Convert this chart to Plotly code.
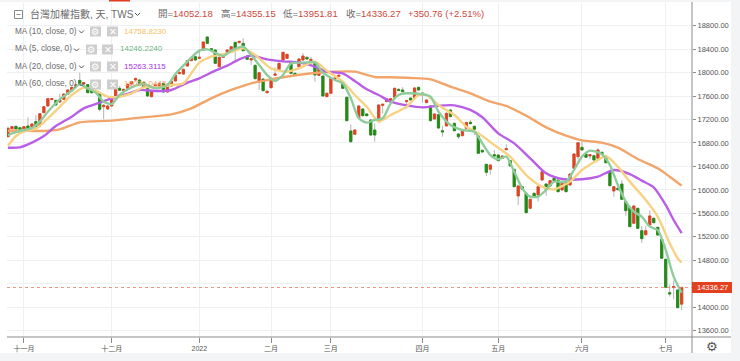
import plotly.graph_objects as go

opens = [16908,17044,17084,17061,17022,17090,17079,17164,17090,17317,
17431,17539,17527,17499,17544,17630,17692,17772,17868,17806,
17795,17692,17692,17647,17419,17380,17431,17579,17732,17692,
17732,17806,17874,17874,17829,17749,17590,17732,17749,17817,
17669,17772,17857,17982,17976,18113,18204,18272,18243,18386,
18607,18408,18386,18101,18261,18346,18346,18516,18511,18499,
18283,18215,18124,17840,17891,17658,17743,17954,18056,18215,
18243,18181,17988,18101,18215,18261,18204,18158,17954,17942,
17590,17647,17885,17937,17846,17579,17005,16948,17232,17380,
17295,17192,17022,17164,17442,17505,17505,17579,17715,17704,
17505,17567,17573,17749,17652,17488,17431,17209,17283,17010,
17090,17363,17135,16953,16925,17050,17153,17084,16919,16675,
16436,16351,16601,16595,16539,16686,16499,16351,15896,16055,
15942,15686,15942,15913,16169,16101,16067,16198,16169,15999,
16141,16084,16368,16567,16726,16612,16578,16584,16539,16641,
16578,16311,15982,16027,16101,15800,15703,15431,15686,15305,
15237,15402,15516,15362,15158,14817,14248,14334,14294,14052.18]

closes = [17050,17079,17039,16982,17079,17010,17124,17079,17300,17419,
17556,17556,17448,17533,17635,17704,17749,17789,17800,17829,
17658,17658,17664,17374,17442,17431,17579,17715,17698,17715,
17800,17846,17897,17789,17760,17601,17675,17800,17817,17669,
17800,17851,17954,18000,18056,18204,18243,18215,18261,18522,
18499,18374,18158,18261,18283,18386,18442,18397,18533,18374,
18226,18238,17897,17999,17692,17681,17902,17976,18158,18346,
18312,17988,17959,18232,18283,18232,18226,17959,18056,17601,
17647,17902,17908,17954,17732,17181,16823,17022,17431,17266,
17266,16936,16936,17448,17459,17556,17556,17732,17698,17675,
17522,17533,17738,17704,17624,17533,17181,17295,17056,16988,
17306,17249,17010,16908,16999,17147,17130,17033,16624,16647,
16300,16425,16578,16499,16578,16703,16408,16055,16067,16010,
15612,15840,15896,16055,16311,16010,16158,16158,15970,16112,
15970,16271,16612,16806,16681,16556,16601,16510,16681,16612,
16465,16073,16055,16004,15840,15646,15374,15726,15345,15169,
15305,15556,15442,15231,14834,14339,14226,14351,13992,14336.27]

highs = [17079,17090,17095,17070,17085,17238,17140,17275,17310,17430,
17570,17570,17535,17640,17645,17715,17760,17800,17999,17840,
17805,17700,17700,17660,17465,17440,17590,17725,17772,17725,
17815,17860,17920,17885,17840,17760,17685,17810,17825,17830,
17810,17860,17965,18030,18070,18215,18255,18285,18390,18535,
18620,18420,18400,18275,18295,18400,18455,18525,18545,18585,
18295,18250,18135,18010,17900,17695,17915,18090,18170,18355,
18320,18190,18000,18245,18330,18270,18265,18170,18065,17950,
17660,17915,17920,17965,17860,17590,17120,17035,17445,17390,
17305,17205,17135,17460,17470,17570,17570,17745,17730,17750,
17535,17575,17750,17760,17660,17545,17440,17305,17295,17090,
17320,17375,17145,16965,17010,17160,17190,17095,16930,16685,
16445,16435,16680,16610,16590,16780,16510,16360,16080,16065,
15955,15850,15950,16065,16320,16110,16170,16210,16180,16125,
16150,16285,16625,16815,16830,16620,16610,16595,16710,16650,
16590,16320,16065,16040,16165,15810,15712,15735,15695,15385,
15390,15650,15525,15370,15165,14825,14390,14455,14300,14355.15]

lows = [16897,17035,17030,16970,17015,16993,17070,17070,17085,17310,
17420,17530,17440,17490,17535,17620,17685,17760,17790,17795,
17650,17640,17650,17340,17204,17370,17420,17570,17685,17680,
17720,17795,17860,17780,17750,17590,17580,17720,17740,17660,
17660,17760,17850,17975,17965,18105,18195,18205,18235,18375,
18490,18365,18145,18090,18250,18335,18335,18215,18500,18360,
18215,18130,17885,17704,17680,17645,17735,17945,18045,18205,
18235,17975,17950,18090,18205,18220,18190,17845,17945,17590,
17580,17635,17875,17925,17720,17170,16800,16935,17220,17255,
17255,16925,16823,17150,17300,17495,17495,17570,17690,17665,
17385,17525,17565,17695,17490,17480,17170,17200,17045,16908,
17080,17240,17000,16868,16915,17040,17120,16936,16615,16635,
16240,16260,16555,16490,16530,16675,16400,16045,15743,16000,
15600,15675,15885,15800,16160,15900,16055,16150,15960,15985,
15960,16075,16360,16520,16670,16545,16520,16500,16530,16600,
16450,16060,15885,15995,15830,15560,15365,15420,15335,15095,
15225,15390,15430,15220,14825,14330,14180,14136,13985,13951.81]

ma5_x = [0,3,6,8,10,13,16,18,20,22,24,26,28,31,34,37,40,42,45,48,50,52,54,56,59,61,63,65,67,69,71,74,77,79,82,84,86,88,90,92,94,96,98,100,104,106,108,111,114,117,119,121,123,125,127,129,131,133,135,137,140,142,144,146,149,151,153,155,157,159,161,163,165,167,169]
ma5_y = [16936,17005,17056,17164,17334,17544,17692,17800,17732,17658,17505,17465,17618,17749,17806,17732,17789,17976,18187,18374,18397,18340,18283,18374,18442,18300,18130,17959,17857,17959,18158,18170,18175,17999,17874,17817,17562,17221,17147,17192,17221,17476,17618,17647,17630,17590,17334,17107,17022,16993,16794,16595,16522,16567,16311,16027,15885,15885,15999,16141,16141,16340,16567,16669,16607,16425,16084,15800,15629,15544,15374,15317,14976,14521,14246.22]

ma10_x = [0,2,4,7,10,13,16,19,22,25,28,31,34,38,41,44,48,51,55,59,62,66,70,73,77,80,84,87,90,93,96,100,103,105,108,112,115,118,122,126,130,134,137,141,144,148,150,153,156,160,163,166,168,169]
ma10_y = [16754,16919,16999,17044,17220,17419,17618,17743,17692,17590,17590,17647,17749,17749,17789,17817,18170,18272,18329,18414,18300,18073,18016,18073,18187,18033,17846,17618,17419,17164,17277,17419,17618,17618,17448,17277,17078,16965,16766,16567,16254,16055,16010,16141,16340,16510,16578,16396,16141,15828,15544,15089,14834,14758.82]

ma20_x = [0,3,6,9,12,16,19,23,26,30,33,37,41,45,48,52,55,58,61,65,69,73,77,80,84,87,90,93,96,100,104,108,112,116,119,123,127,131,135,139,144,148,152,156,159,162,165,167,169]
ma20_y = [16720,16726,16806,16919,17090,17249,17391,17488,17562,17635,17704,17687,17704,17829,17903,18033,18118,18226,18289,18226,18192,18175,18101,18016,17988,17857,17715,17618,17505,17442,17408,17436,17442,17363,17238,16965,16794,16539,16283,16186,16181,16226,16340,16271,16158,16044,15743,15487,15263.31]

ma60_x = [0,3,9,13,18,26,33,41,46,51,56,61,66,71,77,82,87,92,96,101,106,111,116,121,125,130,135,140,144,149,153,158,163,166,169]
ma60_y = [17010,17010,17005,17033,17152,17181,17232,17289,17391,17562,17704,17817,17885,17942,17993,18016,18016,17925,17920,17908,17885,17760,17647,17505,17431,17266,17067,16925,16845,16806,16720,16527,16368,16226,16073]

month_ticks = [4,26,48,66,81,104,123,144,165]
month_labels = ["十一月","十二月","2022","二月","三月","四月","五月","六月","七月"]
price_ticks = list(range(13600, 19000, 400))

W, H = 740, 361
L, R, T, B = 7, 692, 3, 337
RED = "#e2401f"
GREEN = "#218a12"
TEXT_RED = "#d0483c"
GREY = "#6b6b6b"
FONT = "Liberation Sans, Noto Sans CJK TC, sans-serif"

def px(v):
    return (v - L) / (R - L)

def py(v):
    return (B - v) / (B - T)

indices = list(range(len(opens)))
fig = go.Figure()

wick_style = dict(line=dict(color="#b4b4b4", width=1), fillcolor="rgba(0,0,0,0)")
fig.add_trace(go.Candlestick(x=indices, open=opens, high=highs, low=lows, close=closes,
                             increasing=wick_style, decreasing=wick_style,
                             whiskerwidth=0, showlegend=False, hoverinfo="skip"))
body_high = [max(a, b) for a, b in zip(opens, closes)]
body_low = [min(a, b) for a, b in zip(opens, closes)]
fig.add_trace(go.Candlestick(x=indices, open=opens, high=body_high, low=body_low, close=closes,
                             increasing=dict(line=dict(color=RED, width=0.8), fillcolor=RED),
                             decreasing=dict(line=dict(color=GREEN, width=0.8), fillcolor=GREEN),
                             whiskerwidth=0, showlegend=False))

for xs, ys, color in [(ma60_x, ma60_y, "#f1a56b"),
                      (ma20_x, ma20_y, "#b85fe6"),
                      (ma10_x, ma10_y, "#f8d183"),
                      (ma5_x, ma5_y, "#8fcc9c")]:
    fig.add_trace(go.Scatter(x=xs, y=ys, mode="lines", showlegend=False,
                             line=dict(color=color, width=2.4, shape="spline", smoothing=0.7)))

annotations = []

def label(x, y, text, size, color, family=FONT, anchor="left"):
    annotations.append(dict(x=px(x), y=py(y), xref="paper", yref="paper", text=text,
                            showarrow=False, xanchor=anchor, yanchor="middle",
                            borderpad=0, align="left",
                            font=dict(size=size, color=color, family=family)))

shapes = []

def rect(x0, y0, x1, y1, **kw):
    shapes.append(dict(type="rect", xref="paper", yref="paper", x0=px(x0), x1=px(x1),
                       y0=py(y0), y1=py(y1), **kw))

def chevron(x, y, color="#555555"):
    path = f"M{px(x)} {py(y)} L{px(x+2.5)} {py(y+2.5)} L{px(x+5)} {py(y)}"
    shapes.append(dict(type="path", xref="paper", yref="paper", path=path,
                       line=dict(color=color, width=1)))

# page strips around the chart
rect(0, 0, W, 2, fillcolor="#f2f4f5", line_width=0, layer="below")
rect(0, 353, W, H, fillcolor="#f2f4f5", line_width=0, layer="below")
rect(731, 0, W, H, fillcolor="#f2f4f5", line_width=0, layer="below")
rect(109, 0, 130, 1.5, fillcolor=RED, line_width=0)

# axis extensions
shapes.append(dict(type="line", xref="paper", yref="paper", x0=px(R), x1=px(R), y0=py(2), y1=py(353),
                   line=dict(color="#8a8a8a", width=1)))
shapes.append(dict(type="line", xref="paper", yref="paper", x0=px(L), x1=px(731), y0=py(B), y1=py(B),
                   line=dict(color="#8a8a8a", width=1)))

# last price line and label
shapes.append(dict(type="line", xref="paper", yref="y", x0=0, x1=1, y0=closes[-1], y1=closes[-1],
                   line=dict(color="#ee7a5c", width=0.8, dash="dot")))
rect(692, 282, 732, 293, fillcolor=RED, line_width=0)
annotations.append(dict(x=px(712), y=closes[-1], xref="paper", yref="y", text=f"{closes[-1]:.2f}",
                        showarrow=False, xanchor="center", yanchor="middle", borderpad=0,
                        font=dict(size=7.5, color="white", family=FONT)))

# header
rect(14.5, 10.5, 22.5, 18.5, line=dict(color="#888888", width=1), fillcolor="rgba(0,0,0,0)")
shapes.append(dict(type="line", xref="paper", yref="paper", x0=px(16.5), x1=px(20.5), y0=py(14.5), y1=py(14.5),
                   line=dict(color="#888888", width=1)))
label(29, 14, "台灣加權指數, 天, TWS", 10, GREY)
chevron(135, 13)
for x, head, val in [(157, "開=", "14052.18"), (220, "高=", "14355.15"),
                     (282, "低=", "13951.81"), (345, "收=", "14336.27")]:
    label(x, 14, f"<span style='color:{GREY}'>{head}</span>{val}", 9.5, TEXT_RED)
label(406.5, 14, "+350.76 (+2.51%)", 9.5, TEXT_RED)

# indicator rows
rows = [(31, "MA (10, close, 0)", 79, 90, 107, 123, "14758.8230", "#f5bf62"),
        (49, "MA (5, close, 0)", 74, 86, 102, 119, "14246.2240", "#6fb67f"),
        (66, "MA (20, close, 0)", 79, 90, 107, 123, "15263.3115", "#a930e8"),
        (84, "MA (60, close, 0)", 79, 90, 107, 123, "16070.0443", "#f1a56b")]
for y, name, chev, gear, cross, valx, val, color in rows:
    label(14, y, name, 8.2, GREY)
    chevron(chev, y - 0.5)
    rect(gear, y - 4.5, gear + 11, y + 5.5, fillcolor="#c6c6c6", line_width=0, opacity=0.85)
    rect(cross, y - 4.5, cross + 11, y + 5.5, fillcolor="#c6c6c6", line_width=0, opacity=0.85)
    label(gear + 5.5, y + 0.5, "⚙", 9.5, "white", "DejaVu Sans", "center")
    label(cross + 5.5, y + 0.5, "✕", 9.5, "white", "DejaVu Sans", "center")
    label(valx, y, val, 8, color)

label(712, 346, "⚙", 13, "#555555", "DejaVu Sans", "center")

fig.update_layout(
    width=W, height=H, autosize=False,
    margin=dict(l=L, r=W - R, t=T, b=H - B),
    paper_bgcolor="white", plot_bgcolor="white",
    showlegend=False, hovermode=False, boxgap=0.2,
    shapes=shapes, annotations=annotations,
    font=dict(family=FONT, size=7.5, color="#555555"),
    xaxis=dict(range=[-0.25, 171.6], tickmode="array", tickvals=month_ticks, ticktext=month_labels,
               showgrid=True, gridcolor="#eef1f3", gridwidth=1, zeroline=False,
               rangeslider=dict(visible=False), ticks="outside", ticklen=5, tickcolor="#8a8a8a",
               tickfont=dict(size=7, color="#555555", family=FONT), showline=False),
    yaxis=dict(range=[13492, 19187], side="right", tickmode="array", tickvals=price_ticks,
               # the 14400 label sits behind the last-price tag in the reference
               ticktext=["" if v == 14400 else f"{v:.2f}" for v in price_ticks],
               showgrid=True, gridcolor="#eef1f3", gridwidth=1, zeroline=False,
               ticks="outside", ticklen=3, tickcolor="#8a8a8a",
               tickfont=dict(size=7.5, color="#555555", family=FONT), showline=False),
)

fig.write_html("out.html", config=dict(displayModeBar=False),
               post_script="document.body.style.margin='0';")
